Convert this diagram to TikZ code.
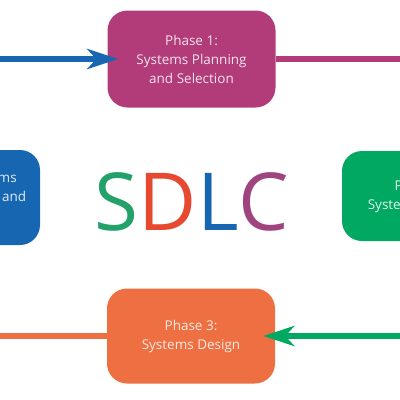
\documentclass[tikz,border=0pt]{standalone}
\usepackage{fontspec}
\setmainfont{Open Sans}
\usepackage{tikz}
\usetikzlibrary{arrows.meta,positioning}
\definecolor{myplum}{RGB}{178,60,122}
\definecolor{myblue}{RGB}{22,102,178}
\definecolor{mygreen}{RGB}{0,168,98}
\definecolor{myorange}{RGB}{238,112,66}
\definecolor{mysred}{RGB}{230,72,48}
\definecolor{myspurple}{RGB}{160,68,128}
\definecolor{mysgreen}{RGB}{34,162,104}
\tikzstyle{phase}=[rounded corners=20pt,align=center,inner sep=0pt,font=\fontsize{13.5}{19}\selectfont]
\tikzstyle{link}=[line width=6.5pt]
\tikzstyle{tip}=[-{Stealth[length=31pt,width=20pt,inset=9pt]}]

\begin{document}
\begin{tikzpicture}[x=1pt,y=-1pt]
\useasboundingbox (0,0) rectangle (400,400);
\clip (0,0) rectangle (400,400);
\node [phase,fill=myplum,text=white!85!myplum,minimum width=168pt,minimum height=97pt] (phaseone) at (191.5,59) {Phase 1:\\Systems Planning\\and Selection};
\node [phase,fill=mygreen,text=white!88!mygreen,minimum width=158pt,minimum height=90pt] (phasetwo) at (421,196) {Phase 2:\\Systems Analysis};
\node [phase,fill=myorange,text=white!85!myorange,minimum width=168pt,minimum height=95pt] (phasethree) at (191,336) {Phase 3:\\Systems Design};
\node [phase,fill=myblue,text=white!88!myblue,minimum width=156pt,minimum height=95pt] (phasefour) at (-38,197.5) {Phase 4: Systems\\Implementation and\\Operation};
\node [anchor=base,inner sep=0pt,font=\fontsize{80}{80}\selectfont] (sdlc) at (192,230)
  {\textcolor{mysgreen}{S}\textcolor{mysred}{D}\textcolor{myblue}{L}\textcolor{myspurple}{C}};
\draw [link,myblue,tip,shorten >=-11pt] (phasefour.north) |- (phaseone.west);
\draw [link,myplum,tip] (phaseone.east) -| (phasetwo.north);
\draw [link,mygreen,tip,shorten >=-12pt] (phasetwo.south) |- (phasethree.east);
\draw [link,myorange,tip] (phasethree.west) -| (phasefour.south);
\end{tikzpicture}
\end{document}
